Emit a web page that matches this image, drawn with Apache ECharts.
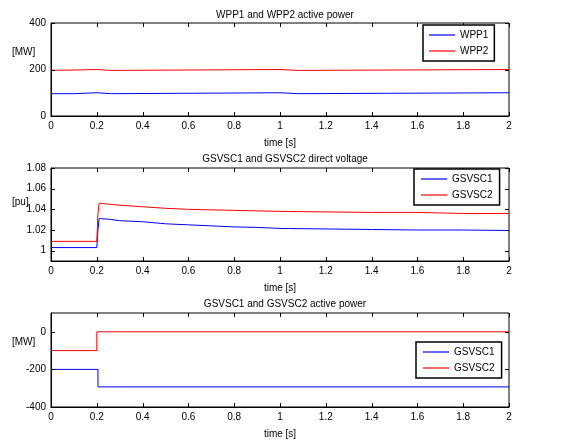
<!DOCTYPE html>
<html><head><meta charset="utf-8">
<script src="https://cdn.jsdelivr.net/npm/echarts@6/dist/echarts.min.js"></script>
<style>html,body{margin:0;padding:0;background:#fff}#c{width:572px;height:441px}</style>
</head><body><div id="c"></div>
<script>
const titles = ['WPP1 and WPP2 active power', 'GSVSC1 and GSVSC2 direct voltage', 'GSVSC1 and GSVSC2 active power'];
const yUnits = ['[MW]', '[pu]', '[MW]'];
const xTicks = [0, 0.2, 0.4, 0.6, 0.8, 1, 1.2, 1.4, 1.6, 1.8, 2];
const yTicks1 = [0, 200, 400];
const yTicks2 = [1, 1.02, 1.04, 1.06, 1.08];
const yTicks3 = [-400, -200, 0];

const wpp1T = [0, 0.1, 0.2, 0.265, 1.0, 1.08, 2];
const wpp1V = [96, 100, 96, 100, 96, 100, 100];
const wpp2T = [0, 0.07, 0.2, 0.26, 1.0, 1.08, 2];
const wpp2V = [197, 200, 196, 200, 196, 200, 200];

const vdc1T = [0, 0.2, 0.205, 0.21, 0.25, 0.3, 0.4, 0.5, 0.6, 0.7, 0.8, 0.9, 1.0, 1.2, 1.4, 1.6, 1.8, 2];
const vdc1V = [1.003, 1.003, 1.02, 1.031, 1.0305, 1.029, 1.028, 1.026, 1.025, 1.024, 1.023, 1.0225, 1.0215, 1.021, 1.0205, 1.020, 1.020, 1.0195];
const vdc2T = [0, 0.2, 0.205, 0.21, 0.25, 0.3, 0.4, 0.5, 0.6, 0.7, 0.8, 0.9, 1.0, 1.2, 1.4, 1.6, 1.8, 2];
const vdc2V = [1.009, 1.009, 1.036, 1.046, 1.045, 1.044, 1.0425, 1.041, 1.040, 1.0395, 1.039, 1.0385, 1.038, 1.0375, 1.037, 1.037, 1.036, 1.036];

const p1T = [0, 0.205, 2];
const p1V = [-200, -293, -293];
const p2T = [0, 0.2, 2];
const p2V = [-100, 0, 0];

const zip = (t, v) => t.map((x, i) => [x, v[i]]);
const font = 'Liberation Sans, Arial, sans-serif';
const TICK = 4;

const grids = [
  {left: 51, width: 458, top: 23, height: 93},
  {left: 51, width: 458, top: 168, height: 93},
  {left: 51, width: 458, top: 313, height: 94}
].map(g => Object.assign(g, {show: true, borderColor: '#000', borderWidth: 1, backgroundColor: 'transparent'}));
const yRanges = [[0, 400, yTicks1], [0.99, 1.08, yTicks2], [-400, 100, yTicks3]];

const xAxes = [], yAxes = [];
grids.forEach((g, i) => {
  xAxes.push({
    type: 'value', gridIndex: i, min: 0, max: 2, interval: 0.2, position: 'bottom',
    axisLine: {show: true, onZero: false, lineStyle: {color: '#000', width: 1}},
    axisTick: {show: false}, splitLine: {show: false},
    name: 'time [s]', nameLocation: 'middle', nameGap: 22,
    nameTextStyle: {color: '#000', fontSize: 10, fontFamily: font},
    axisLabel: {show: true, color: '#000', fontSize: 10, fontFamily: font, margin: 5, customValues: xTicks}
  });
  const [mn, mx, yt] = yRanges[i];
  yAxes.push({
    type: 'value', gridIndex: i, min: mn, max: mx, position: 'left',
    axisLine: {show: true, onZero: false, lineStyle: {color: '#000', width: 1}},
    axisTick: {show: false}, splitLine: {show: false},
    axisLabel: {show: true, color: '#000', fontSize: 10, fontFamily: font, margin: 5, customValues: yt}
  });
});

const mk = (name, data, color, gi) => ({
  name, type: 'line', data, step: 'end', symbol: 'none', showSymbol: false,
  xAxisIndex: gi, yAxisIndex: gi,
  lineStyle: {color, width: 1}, itemStyle: {color}, animation: false
});

// inward tick marks on all four sides, positioned through the axes' own scales
const tickSeries = (gi, axis, values) => ({
  type: 'custom', xAxisIndex: gi, yAxisIndex: gi, silent: true, clip: false, z: 5,
  data: values.map(v => axis === 'x' ? [v, yRanges[gi][0]] : [0, v]),
  renderItem: (params, api) => {
    const cs = params.coordSys;
    const p = api.coord([api.value(0), api.value(1)]);
    const st = {stroke: '#000', lineWidth: 1};
    if (axis === 'x') {
      const x = Math.round(p[0]) + 0.5;
      return {type: 'group', children: [
        {type: 'line', shape: {x1: x, y1: cs.y + cs.height, x2: x, y2: cs.y + cs.height - TICK}, style: st},
        {type: 'line', shape: {x1: x, y1: cs.y, x2: x, y2: cs.y + TICK}, style: st}
      ]};
    }
    const y = Math.round(p[1]) + 0.5;
    return {type: 'group', children: [
      {type: 'line', shape: {x1: cs.x, y1: y, x2: cs.x + TICK, y2: y}, style: st},
      {type: 'line', shape: {x1: cs.x + cs.width, y1: y, x2: cs.x + cs.width - TICK, y2: y}, style: st}
    ]};
  }
});

const series = [
  mk('WPP1', zip(wpp1T, wpp1V), '#0000ff', 0),
  mk('WPP2', zip(wpp2T, wpp2V), '#ff0000', 0),
  Object.assign(mk('GSVSC1', zip(vdc1T, vdc1V), '#0000ff', 1), {step: false}),
  Object.assign(mk('GSVSC2', zip(vdc2T, vdc2V), '#ff0000', 1), {step: false}),
  mk('GSVSC1 ', zip(p1T, p1V), '#0000ff', 2),
  mk('GSVSC2 ', zip(p2T, p2V), '#ff0000', 2),
  tickSeries(0, 'x', xTicks), tickSeries(0, 'y', yTicks1),
  tickSeries(1, 'x', xTicks), tickSeries(1, 'y', yTicks2),
  tickSeries(2, 'x', xTicks), tickSeries(2, 'y', yTicks3)
];

const legBase = {
  orient: 'vertical', icon: 'rect', itemWidth: 26, itemHeight: 1.2, itemGap: 6,
  padding: [5, 6, 5, 6], borderColor: '#000', borderWidth: 1.5, backgroundColor: '#fff',
  textStyle: {color: '#000', fontSize: 10, fontFamily: font, lineHeight: 10}, selectedMode: false, z: 10
};
const legends = [
  Object.assign({}, legBase, {left: 423, top: 25, data: ['WPP1', 'WPP2']}),
  Object.assign({}, legBase, {left: 414, top: 169, padding: [5, 7, 5, 7], data: ['GSVSC1', 'GSVSC2']}),
  Object.assign({}, legBase, {left: 416, top: 342, padding: [5, 7, 5, 7], data: ['GSVSC1 ', 'GSVSC2 '],
    formatter: n => n.trim()})
];

const titleTops = [5, 149, 294];
const title = titles.map((t, i) => ({
  text: t, left: 280, top: titleTops[i], textAlign: 'center',
  textStyle: {color: '#000', fontSize: 10, fontWeight: 'normal', fontFamily: font}
}));

const unitPos = [[12, 47], [12, 197], [12, 337]];
const graphic = yUnits.map((u, i) => ({
  type: 'text', left: unitPos[i][0], top: unitPos[i][1],
  style: {text: u, fill: '#000', font: '10px ' + font}
}));

const chart = echarts.init(document.getElementById('c'), null, {renderer: 'canvas'});
chart.setOption({
  animation: false, backgroundColor: '#fff',
  title, grid: grids, xAxis: xAxes, yAxis: yAxes, legend: legends, series, graphic
});
</script></body></html>
